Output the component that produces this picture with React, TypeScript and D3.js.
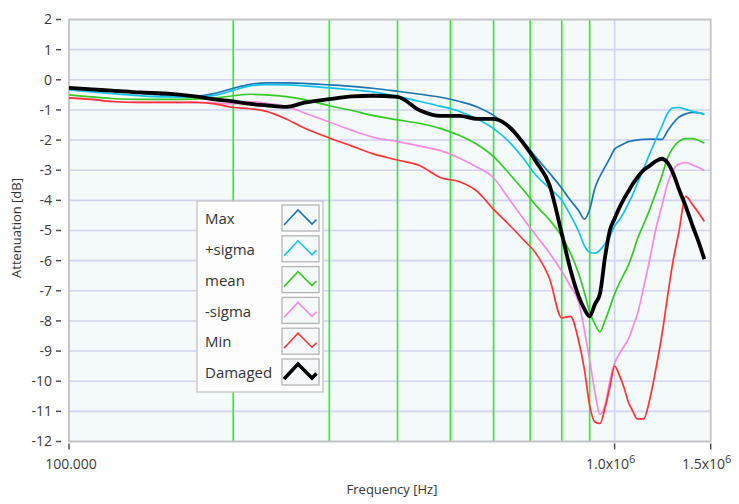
import React, { useMemo } from "react";
import * as d3 from "d3";

const WIDTH = 739;
const HEIGHT = 504;
const MARGIN = { top: 19.5, right: 28.3, bottom: 62.5, left: 69 };

// frequency grid in kHz
const freqKHz = [
  100, 110, 120, 135, 150, 170, 185, 200, 215, 230, 250, 270, 300, 330, 360, 400, 440, 480, 520, 560,
  600, 640, 680, 720, 760, 800, 830, 860, 880, 900, 920, 940, 960, 980, 1000, 1020, 1040, 1060, 1080,
  1100, 1130, 1160, 1190, 1220, 1250, 1280, 1310, 1350, 1390, 1430, 1460,
];

const maxDb = [
  -0.27, -0.3, -0.35, -0.45, -0.52, -0.55, -0.45, -0.28, -0.15, -0.1, -0.1, -0.12, -0.17, -0.22, -0.28,
  -0.38, -0.48, -0.58, -0.72, -0.9, -1.18, -1.6, -2.05, -2.6, -3.1, -3.6, -4.0, -4.35, -4.62, -4.3, -3.6,
  -3.2, -2.9, -2.6, -2.3, -2.2, -2.12, -2.05, -2.02, -2.0, -1.98, -1.97, -1.97, -1.98, -1.7, -1.44, -1.25,
  -1.13, -1.08, -1.1, -1.15,
];

const plusSigmaDb = [
  -0.33, -0.4, -0.46, -0.53, -0.57, -0.58, -0.52, -0.35, -0.2, -0.16, -0.17, -0.2, -0.27, -0.33, -0.4,
  -0.55, -0.72, -0.88, -1.05, -1.3, -1.62, -2.05, -2.6, -3.2, -3.6, -4.0, -4.5, -5.05, -5.5, -5.72, -5.75,
  -5.65, -5.45, -5.2, -4.85, -4.65, -4.4, -4.1, -3.8, -3.45, -2.95, -2.45, -1.98, -1.55, -1.12, -0.93,
  -0.92, -0.98, -1.05, -1.1, -1.15,
];

const meanDb = [
  -0.5, -0.57, -0.62, -0.65, -0.65, -0.64, -0.6, -0.53, -0.48, -0.5, -0.56, -0.66, -0.86, -1.02, -1.18,
  -1.33, -1.45, -1.62, -1.85, -2.15, -2.55, -3.1, -3.65, -4.2, -4.65, -5.2, -5.75, -6.45, -7.05, -7.7,
  -8.1, -8.36, -8.0, -7.55, -7.1, -6.75, -6.45, -6.15, -5.75, -5.3, -4.8, -4.3, -3.75, -3.2, -2.6, -2.25,
  -2.05, -1.95, -1.95, -2.02, -2.1,
];

const minusSigmaDb = [
  -0.6, -0.65, -0.72, -0.75, -0.75, -0.75, -0.77, -0.8, -0.73, -0.78, -0.88, -1.1, -1.4, -1.68, -1.9,
  -2.05, -2.2, -2.35, -2.6, -2.9, -3.25, -3.95, -4.6, -5.2, -5.75, -6.35, -6.85, -7.4, -8.3, -9.3, -10.35,
  -11.1, -10.8, -10.0, -9.4, -9.1, -8.85, -8.6, -8.2, -7.8, -6.9, -5.95, -4.95, -4.2, -3.45, -3.0, -2.8,
  -2.75, -2.83, -2.92, -3.02,
];

const minDb = [
  -0.6, -0.65, -0.72, -0.75, -0.75, -0.75, -0.8, -0.92, -0.96, -1.05, -1.3, -1.6, -1.93, -2.2, -2.45,
  -2.66, -2.85, -3.25, -3.38, -3.7, -4.3, -4.8, -5.3, -5.8, -6.6, -7.9, -7.85, -8.7, -9.6, -10.8, -11.35,
  -11.4, -10.9, -10.2, -9.5, -9.8, -10.2, -10.7, -11.0, -11.25, -11.25, -10.6, -9.6, -8.5, -7.2, -6.0,
  -5.1, -3.87, -4.15, -4.45, -4.7,
];

const damagedDb = [
  -0.27, -0.32, -0.36, -0.42, -0.45, -0.55, -0.65, -0.72, -0.8, -0.85, -0.9, -0.76, -0.64, -0.55, -0.53,
  -0.57, -1.02, -1.2, -1.2, -1.3, -1.3, -1.55, -2.1, -2.75, -3.5, -5.1, -6.3, -7.2, -7.6, -7.85, -7.45,
  -7.1, -5.9, -5.0, -4.6, -4.25, -3.95, -3.7, -3.45, -3.25, -3.0, -2.85, -2.7, -2.62, -2.75, -3.1, -3.6,
  -4.2, -4.85, -5.45, -5.95,
];

const seriesNames = ["Max", "+sigma", "mean", "-sigma", "Min", "Damaged"];
const seriesColors = ["#1b75b3", "#12c3f0", "#33cc22", "#f78ae4", "#ff3333", "#000000"];
const seriesValues = [maxDb, plusSigmaDb, meanDb, minusSigmaDb, minDb, damagedDb];

// green marker lines, Hz
const markerFreqs = [200000, 300000, 400000, 500000, 600000, 700000, 800000, 900000];
const yTicks = d3.range(-12, 3, 1);

const FONT = "'Segoe UI', 'Open Sans', sans-serif";

const Swatch = ({ x, y, color, heavy }) => {
  const pts = [[2, 20], [16, 5], [30, 19], [34.5, 14.5]];
  const path = d3.line()(pts.map(([px, py]) => [x + px, y + py]));
  return (
    <g>
      <rect x={x} y={y} width={37} height={26} fill="#f6f9f9" stroke="#b4b4b4" strokeWidth={1.3} />
      <path d={path} fill="none" stroke={color} strokeWidth={heavy ? 3.5 : 1.6} />
    </g>
  );
};

export default function App() {
  const boundsWidth = WIDTH - MARGIN.left - MARGIN.right;
  const boundsHeight = HEIGHT - MARGIN.top - MARGIN.bottom;

  const xScale = useMemo(
    () => d3.scaleLog().domain([100000, 1500000]).range([0, boundsWidth]),
    [boundsWidth]
  );
  const yScale = useMemo(
    () => d3.scaleLinear().domain([-12, 2]).range([boundsHeight, 0]),
    [boundsHeight]
  );

  const paths = useMemo(() => {
    const lineBuilder = d3
      .line<number>()
      .x((_, i) => xScale(freqKHz[i] * 1000))
      .y((d) => yScale(d))
      .curve(d3.curveMonotoneX);
    return seriesValues.map((vals) => lineBuilder(vals));
  }, [xScale, yScale]);

  const legendX = 197;
  const legendY = 201;
  const rowH = 30.8;

  return (
    <svg
      width={WIDTH}
      height={HEIGHT}
      style={{ position: "absolute", left: 0, top: 0, background: "#fff" }}
      fontFamily={FONT}
    >
      <g transform={`translate(${MARGIN.left},${MARGIN.top})`}>
        <rect x={0} y={0} width={boundsWidth} height={boundsHeight} fill="#f4f9f9" />
        {yTicks.map((t) => (
          <line key={t} x1={0} x2={boundsWidth} y1={yScale(t)} y2={yScale(t)} stroke="#d2d2f2" strokeWidth={1.6} />
        ))}
        <line x1={xScale(1e6)} x2={xScale(1e6)} y1={0} y2={boundsHeight} stroke="#d2d2f2" strokeWidth={1.6} />
        {markerFreqs.map((f) => (
          <line key={f} x1={xScale(f)} x2={xScale(f)} y1={0} y2={boundsHeight} stroke="#33e833" strokeWidth={1.6} />
        ))}
        <rect x={0} y={0} width={boundsWidth} height={boundsHeight} fill="none" stroke="#c4c4c4" strokeWidth={1.8} />

        {paths.map((d, i) => (
          <path
            key={seriesNames[i]}
            d={d}
            fill="none"
            stroke={seriesColors[i]}
            strokeWidth={i === 5 ? 3.8 : 1.7}
            strokeLinejoin="round"
          />
        ))}

        {/* y axis */}
        {yTicks.map((t) => (
          <g key={t} transform={`translate(0,${yScale(t)})`}>
            <line x1={-13} x2={-8} stroke="#444" strokeWidth={1.4} />
            <text x={-17} dy="0.35em" textAnchor="end" fontSize={14} fill="#3a3a3a">
              {t}
            </text>
          </g>
        ))}

        {/* x axis */}
        {[100000, 1e6, 1.5e6].map((f) => (
          <line key={f} x1={xScale(f)} x2={xScale(f)} y1={boundsHeight + 2} y2={boundsHeight + 8} stroke="#444" strokeWidth={1.4} />
        ))}
        <text x={xScale(100000) + 2} y={boundsHeight + 27} textAnchor="middle" fontSize={14} fill="#3a3a3a">
          100.000
        </text>
        <text x={xScale(1e6) - 4} y={boundsHeight + 27} textAnchor="middle" fontSize={14} fill="#3a3a3a">
          1.0x10<tspan dy={-6} fontSize={11}>6</tspan>
        </text>
        <text x={xScale(1.5e6) - 4} y={boundsHeight + 27} textAnchor="middle" fontSize={14} fill="#3a3a3a">
          1.5x10<tspan dy={-6} fontSize={11}>6</tspan>
        </text>
      </g>

      <text x={392} y={494} textAnchor="middle" fontSize={13} fill="#333">
        Frequency [Hz]
      </text>
      <text transform="translate(21,228) rotate(-90)" textAnchor="middle" fontSize={13} fill="#333">
        Attenuation [dB]
      </text>

      {/* legend */}
      <g>
        <rect x={legendX} y={legendY} width={126} height={191} fill="#fdfdfd" stroke="#c4c4c4" strokeWidth={1.3} />
        {seriesNames.map((name, i) => {
          const cy = legendY + 18 + i * rowH;
          return (
            <g key={name}>
              <text x={legendX + 8} y={cy} dy="0.35em" fontSize={15} fill="#333">
                {name}
              </text>
              <Swatch x={legendX + 85} y={cy - 14} color={seriesColors[i]} heavy={i === 5} />
            </g>
          );
        })}
      </g>
    </svg>
  );
}
